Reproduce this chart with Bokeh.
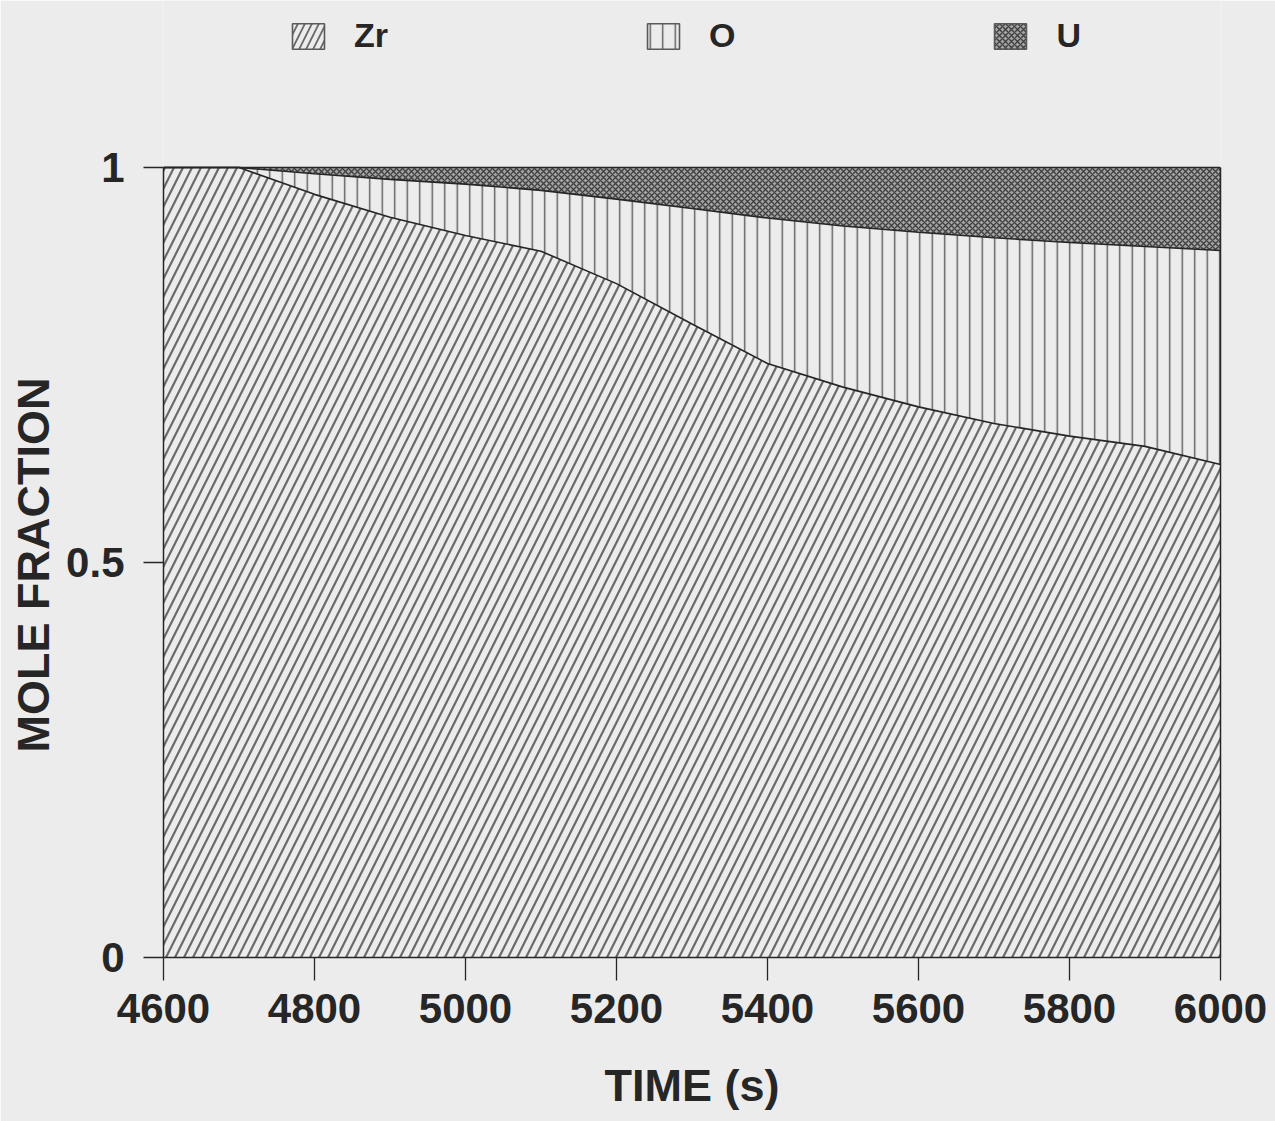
from bokeh.plotting import figure
from bokeh.models import Legend, LegendItem, FixedTicker, ColumnDataSource, LinearAxis, Title
from bokeh.embed import file_html
from bokeh.resources import INLINE

# ---- data ----
time = [4600, 4700, 4800, 4900, 5000, 5100, 5200, 5300, 5400, 5500, 5600, 5700, 5800, 5900, 6000]
zr = [1.000, 1.000, 0.966, 0.937, 0.914, 0.894, 0.853, 0.802, 0.752, 0.722, 0.697, 0.676, 0.660, 0.647, 0.624]
o = [0.000, 0.000, 0.026, 0.048, 0.065, 0.077, 0.107, 0.146, 0.184, 0.204, 0.221, 0.235, 0.245, 0.253, 0.271]
u = [0.000, 0.000, 0.008, 0.015, 0.021, 0.029, 0.040, 0.052, 0.064, 0.074, 0.082, 0.089, 0.095, 0.100, 0.105]
series = ["Zr", "O", "U"]
x_ticks = [4600, 4800, 5000, 5200, 5400, 5600, 5800, 6000]
y_ticks = [0, 0.5, 1]
y_tick_labels = {0: "0", 0.5: "0.5", 1: "1"}

zr_o = [a + b for a, b in zip(zr, o)]
total = [a + b + c for a, b, c in zip(zr, o, u)]
src = ColumnDataSource(dict(time=time, Zr=zr, O=o, U=u, zr_o=zr_o, total=total))

BG = "#ececec"
INK = "#262626"
FONT = "Liberation Sans"

# layout: frame spans from the top of the page to the x axis; the data area (0..1)
# occupies the lower 790 px, leaving room above it for the legend
W, H = 1275, 1121
BOTTOM = 164
DATA_H = 790
frame_h = H - BOTTOM
y_top = frame_h / DATA_H  # y value at the very top of the frame

p = figure(width=W, height=H, output_backend="svg", toolbar_location=None,
           x_range=(4600, 6000), y_range=(0, y_top),
           min_border_left=162, min_border_right=55, min_border_top=0, min_border_bottom=BOTTOM)
p.background_fill_color = BG
p.border_fill_color = BG
p.outline_line_color = None
p.grid.visible = False

fills = [BG, BG, "#a4a4a4"]
patterns = ["right_diagonal_line", "vertical_line", "diagonal_cross"]
hcolors = ["#6a6a6a", "#5a5a5a", "#404040"]
hweights = [2.2, 1.4, 1.4]
hscales = [18, 12.5, 6]

r_zr, r_o, r_u = p.varea_stack(
    series, x="time", source=src,
    fill_color=fills, hatch_pattern=patterns, hatch_color=hcolors,
    hatch_weight=hweights, hatch_scale=hscales,
)

# boundary lines
p.line("time", "Zr", source=src, line_color=INK, line_width=1.6)
p.line("time", "zr_o", source=src, line_color=INK, line_width=1.6)
p.line("time", "total", source=src, line_color=INK, line_width=1.5)

# hidden renderers used only for boxed legend swatches
swatches = []
for i, s in enumerate(series):
    q = p.quad(left="time", right="time", bottom=s, top=s, source=src,
               fill_color=fills[i], hatch_pattern=patterns[i], hatch_color=hcolors[i],
               hatch_weight=hweights[i] if i else 1.8, hatch_scale=hscales[i] if i else 14,
               line_color="#5a5a5a", line_width=1.6, visible=False)
    swatches.append(q)

# right edge of the data box
right_ax = LinearAxis(bounds=(0, 1), ticker=FixedTicker(ticks=[]), major_label_text_alpha=0,
                      axis_line_color=INK, axis_line_width=1.5, major_tick_line_color=None,
                      minor_tick_line_color=None)
p.add_layout(right_ax, "right")

for ax in (p.xaxis[0], p.yaxis[0]):
    ax.axis_line_color = INK
    ax.axis_line_width = 1.5
    ax.major_tick_line_color = INK
    ax.major_tick_line_width = 1.3
    ax.major_tick_in = 0
    ax.minor_tick_line_color = None
    ax.major_label_text_font = FONT
    ax.major_label_text_font_size = "42px"
    ax.major_label_text_font_style = "bold"
    ax.major_label_text_color = INK

p.xaxis.ticker = FixedTicker(ticks=x_ticks)
p.xaxis.major_tick_out = 23
p.xaxis.major_label_standoff = 13
p.xaxis.axis_label = "TIME (s)"
p.xaxis.axis_label_standoff = 34
p.xaxis.axis_label_text_font = FONT
p.xaxis.axis_label_text_font_size = "45px"
p.xaxis.axis_label_text_font_style = "bold"
p.xaxis.axis_label_text_color = INK

p.yaxis[0].bounds = (0, 1)
p.yaxis[0].ticker = FixedTicker(ticks=y_ticks)
p.yaxis[0].major_label_overrides = y_tick_labels
p.yaxis[0].major_tick_out = 20
p.yaxis[0].major_label_standoff = 19

# y axis title, centred on the 0..1 data box
ytitle = Title(text="MOLE FRACTION", align="left", offset=(DATA_H - 380) / 2 + 0,
               text_font=FONT, text_font_size="45px", text_font_style="bold",
               text_color=INK, standoff=10)
p.add_layout(ytitle, "left")

legend = Legend(items=[LegendItem(label=s, renderers=[q]) for s, q in zip(series, swatches)],
                orientation="horizontal", location=(125, frame_h - 55),
                glyph_width=40, glyph_height=32, label_height=32, label_standoff=26,
                spacing=255, padding=0, margin=0,
                label_text_font=FONT, label_text_font_size="34px", label_text_font_style="bold",
                label_text_color=INK, inactive_fill_alpha=0,
                border_line_alpha=0, background_fill_alpha=0)
p.add_layout(legend, "center")

open("out.html", "w").write(file_html(p, INLINE))
